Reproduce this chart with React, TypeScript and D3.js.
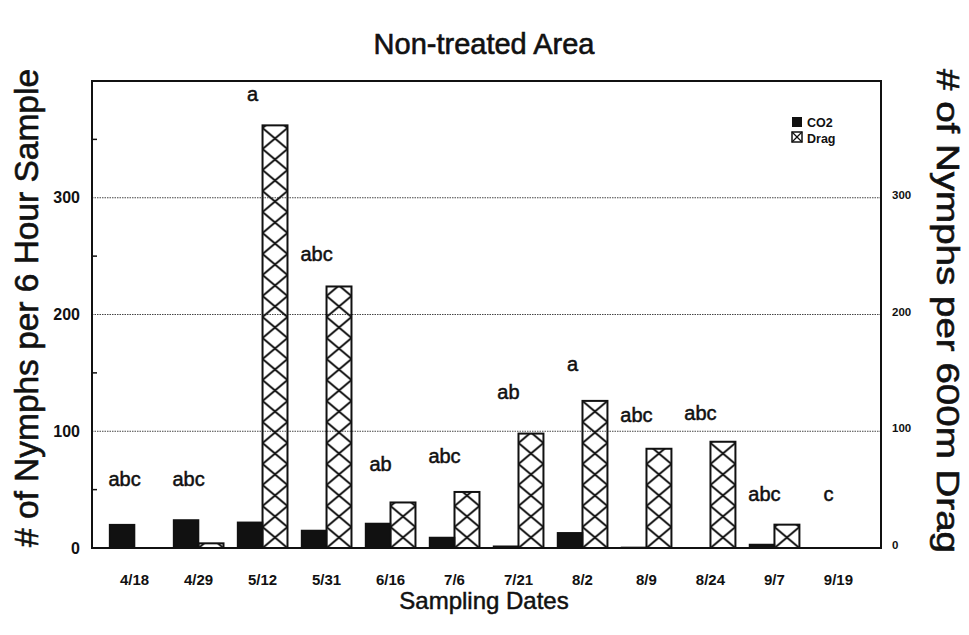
import React from 'react';
import { scaleBand, scaleLinear } from 'd3';

const dates = ['4/18', '4/29', '5/12', '5/31', '6/16', '7/6', '7/21', '8/2', '8/9', '8/24', '9/7', '9/19'];
const co2Values = [20, 24, 22, 15, 21, 9, 1.5, 13, 0.5, 0, 3, 0];
const dragValues = [0, 4, 362, 224, 39, 48, 98, 126, 85, 91, 20, 0];
const letters = ['abc', 'abc', 'a', 'abc', 'ab', 'abc', 'ab', 'a', 'abc', 'abc', 'abc', 'c'];
const letterLevels = [53, 53, 383, 246, 66, 73, 128, 152, 108, 110, 40, 40];
const yTicks = [0, 100, 200, 300];
const minorTicks = [50, 150, 250, 350];
const series = ['CO2', 'Drag'];

const W = 969;
const H = 635;
const m = { left: 92, right: 881, top: 81, bottom: 548 };
const font = '"Liberation Sans", Arial, Helvetica, sans-serif';
const ink = '#111';

const App = () => {
  const x0 = scaleBand().domain(dates).range([m.left, m.right]).paddingInner(0.22).paddingOuter(0.275);
  const x1 = scaleBand().domain(series).range([0, x0.bandwidth()]);
  const y = scaleLinear().domain([0, 400]).range([m.bottom, m.top]);
  const bw = x1.bandwidth();

  return (
    <svg width={W} height={H} style={{ position: 'absolute', left: 0, top: 0, background: '#fff' }} fontFamily={font}>
      <defs>
        {dates.map((d, i) => (
          <pattern key={d} id={`hatch-${i}`} patternUnits="userSpaceOnUse"
            x={(x0(d) || 0) + (x1('Drag') || 0)} y={y(0)} width={bw} height={21}>
            <line x1={0} y1={0} x2={bw} y2={21} stroke={ink} strokeWidth={2} />
            <line x1={bw} y1={0} x2={0} y2={21} stroke={ink} strokeWidth={2} />
          </pattern>
        ))}
      </defs>

      {/* title */}
      <text x={484} y={54} textAnchor="middle" fontSize={29} fill={ink} stroke={ink} strokeWidth={0.6}>Non-treated Area</text>

      {/* grid lines */}
      {yTicks.filter(t => t > 0).map(t => (
        <line key={t} x1={m.left} x2={m.right} y1={y(t)} y2={y(t)} stroke="#444" strokeWidth={1} strokeDasharray="1.5,1" />
      ))}

      {/* minor ticks on left axis */}
      {minorTicks.map(t => (
        <line key={t} x1={m.left} x2={m.left + 5} y1={y(t)} y2={y(t)} stroke={ink} strokeWidth={1.5} />
      ))}

      {/* bars */}
      {dates.map((d, i) => {
        const gx = x0(d) || 0;
        return (
          <g key={d}>
            {co2Values[i] > 0 && (
              <rect x={gx + (x1('CO2') || 0)} y={y(co2Values[i])} width={bw} height={y(0) - y(co2Values[i])}
                fill={ink} stroke={ink} strokeWidth={1.5} />
            )}
            {dragValues[i] > 0 && (
              <rect x={gx + (x1('Drag') || 0)} y={y(dragValues[i])} width={bw} height={y(0) - y(dragValues[i])}
                fill={`url(#hatch-${i})`} stroke={ink} strokeWidth={2} />
            )}
            <text x={gx + x0.bandwidth() / 2 - 10} y={y(letterLevels[i])} textAnchor="middle" fontSize={20}
              fill={ink} stroke={ink} strokeWidth={0.5}>
              {letters[i]}
            </text>
            <text x={gx + x0.bandwidth() / 2} y={585} textAnchor="middle" fontSize={15} fontWeight="bold" fill={ink}>
              {d}
            </text>
          </g>
        );
      })}

      {/* frame */}
      <rect x={m.left} y={m.top} width={m.right - m.left} height={m.bottom - m.top} fill="none" stroke={ink} strokeWidth={2} />

      {/* left tick labels */}
      {yTicks.map(t => (
        <text key={t} x={80} y={y(t)} dy="0.35em" textAnchor="end" fontSize={16} fontWeight="bold" fill={ink}>{t}</text>
      ))}
      {/* right tick labels */}
      {yTicks.map(t => (
        <text key={t} x={892} y={y(t) - 3} dy="0.35em" textAnchor="start" fontSize={11.5} fontWeight="bold" fill={ink}>{t}</text>
      ))}

      {/* axis titles */}
      <text transform={`translate(38,308) rotate(-90)`} textAnchor="middle" fontSize={34}
        textLength={478} lengthAdjust="spacingAndGlyphs" fill={ink} stroke={ink} strokeWidth={0.6}>
        # of Nymphs per 6 Hour Sample
      </text>
      <text transform={`translate(937,311) rotate(90)`} textAnchor="middle" fontSize={32}
        textLength={484} lengthAdjust="spacingAndGlyphs" fill={ink} stroke={ink} strokeWidth={0.6}>
        # of Nymphs per 600m Drag
      </text>
      <text x={484} y={609} textAnchor="middle" fontSize={24} fill={ink} stroke={ink} strokeWidth={0.5}>Sampling Dates</text>

      {/* legend */}
      <g>
        <rect x={792} y={117} width={10} height={10} fill={ink} />
        <text x={807} y={127} fontSize={12.5} fontWeight="bold" fill={ink}>CO2</text>
        <rect x={792} y={132} width={10} height={10} fill="#fff" stroke={ink} strokeWidth={1.5} />
        <line x1={792} y1={132} x2={802} y2={142} stroke={ink} strokeWidth={1.2} />
        <line x1={802} y1={132} x2={792} y2={142} stroke={ink} strokeWidth={1.2} />
        <text x={807} y={143} fontSize={12.5} fontWeight="bold" fill={ink}>Drag</text>
      </g>
    </svg>
  );
};

export default App;
